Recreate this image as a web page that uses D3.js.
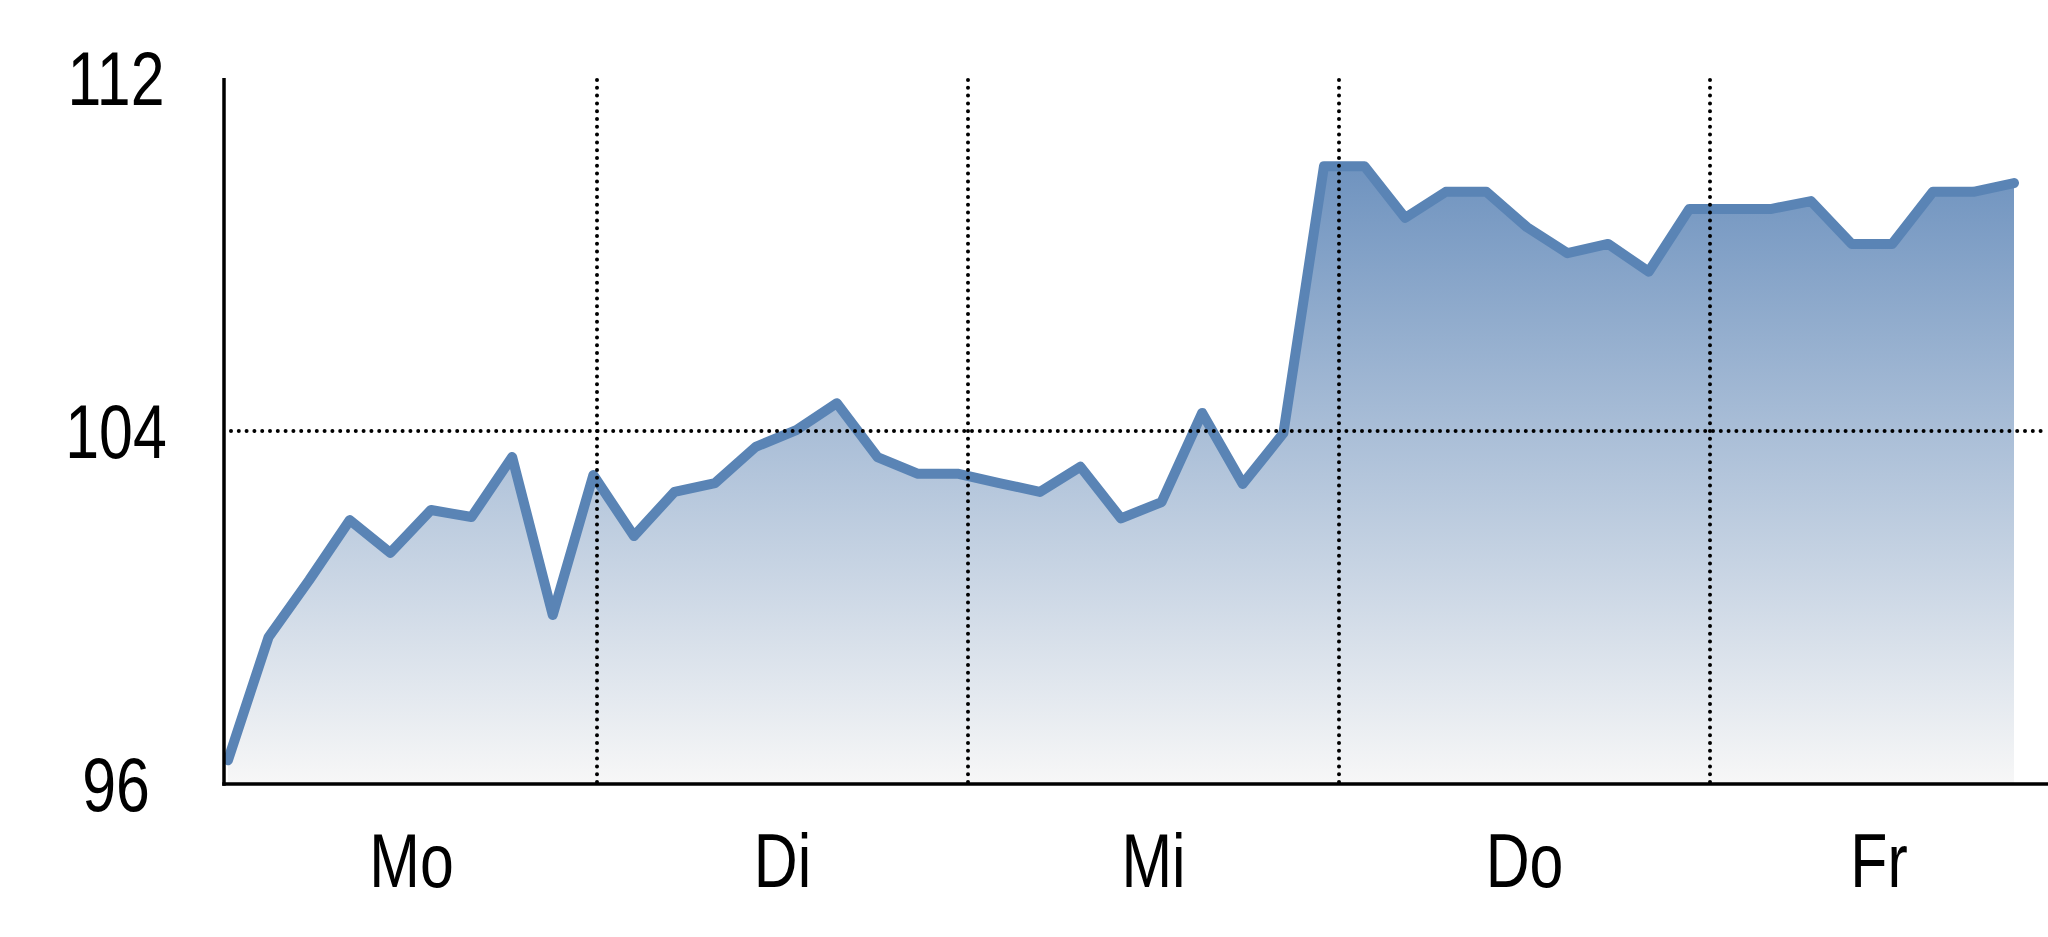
<!DOCTYPE html>
<html>
<head>
<meta charset="utf-8">
<script src="https://cdn.jsdelivr.net/npm/d3@7"></script>
<style>
  body { margin: 0; background: #fff; }
  svg { display: block; }
  .tickLabel { font-family: "Liberation Sans", Arial, sans-serif; font-size: 76px; fill: #000; }
  .grid { stroke: #000; stroke-width: 4; stroke-linecap: round; stroke-dasharray: 0 7.8; fill: none; }
  .axisLine { stroke: #000; stroke-width: 3.5; }
</style>
</head>
<body>
<div id="chart"></div>
<script>
// data
const days = ["Mo", "Di", "Mi", "Do", "Fr"];
const yTicks = [96, 104, 112];
const gridValues = [104];
const prices = [
  96.54, 99.33, 100.62, 101.98, 101.24, 102.21, 102.05, 103.41, 99.83,
  103.00, 101.62, 102.62, 102.82, 103.64, 104.02, 104.63, 103.41, 103.03,
  103.03, 102.82, 102.62, 103.19, 102.02, 102.39, 104.41, 102.80, 103.95,
  110.00, 110.00, 108.83, 109.42, 109.42, 108.62, 108.03, 108.24, 107.61,
  109.03, 109.03, 109.03, 109.21, 108.24, 108.24, 109.42, 109.42, 109.62
];

// setup
const width = 2048;
const height = 937;
const margin = {top: 78, right: 0, bottom: 153, left: 225};
const NARROW = 0.8; // no condensed face installed, squeeze the regular one

const svg = d3.select("#chart").append("svg")
    .attr("width", width)
    .attr("height", height);

// scales
const y = d3.scaleLinear()
    .domain([96, 112])
    .range([height - margin.bottom, margin.top]);

// one band per trading day
const dayScale = d3.scaleLinear()
    .domain([0, days.length])
    .range([margin.left + 1, margin.left + 1 + 5 * 371]);

// readings sit at even steps inside the week
const x = d3.scaleLinear()
    .domain([0, prices.length - 1])
    .range([228, 2014]);

// gradient for the area
const defs = svg.append("defs");
const grad = defs.append("linearGradient")
    .attr("id", "areaFill")
    .attr("x1", 0).attr("y1", 0)
    .attr("x2", 0).attr("y2", 1);
grad.append("stop").attr("offset", "0%").attr("stop-color", "#6f93bf");
grad.append("stop").attr("offset", "100%").attr("stop-color", "#f7f7f7");

const area = d3.area()
    .x((d, i) => x(i))
    .y0(y(96))
    .y1(d => y(d));

const line = d3.line()
    .x((d, i) => x(i))
    .y(d => y(d));

svg.append("path")
    .datum(prices)
    .attr("d", area)
    .attr("fill", "url(#areaFill)");

svg.append("path")
    .datum(prices)
    .attr("d", line)
    .attr("fill", "none")
    .attr("stroke", "#5a84b5")
    .attr("stroke-width", 10)
    .attr("stroke-linejoin", "round")
    .attr("stroke-linecap", "round");

// dotted grid, drawn over the area
svg.selectAll("line.vgrid")
  .data(d3.range(1, days.length))
    .enter()
  .append("line")
    .attr("class", "grid vgrid")
    .attr("x1", d => dayScale(d))
    .attr("x2", d => dayScale(d))
    .attr("y1", margin.top + 2)
    .attr("y2", y(96));

svg.selectAll("line.hgrid")
  .data(gridValues)
    .enter()
  .append("line")
    .attr("class", "grid hgrid")
    .attr("x1", margin.left + 6)
    .attr("x2", width)
    .attr("y1", d => y(d))
    .attr("y2", d => y(d));

// axes lines
svg.append("line")
    .attr("class", "axisLine")
    .attr("x1", margin.left - 1).attr("x2", margin.left - 1)
    .attr("y1", margin.top).attr("y2", y(96) + 1.75);

svg.append("line")
    .attr("class", "axisLine")
    .attr("x1", margin.left - 2.75).attr("x2", width)
    .attr("y1", y(96)).attr("y2", y(96));

// y labels
svg.selectAll("text.yLabel")
  .data(yTicks)
    .enter()
  .append("text")
    .attr("class", "tickLabel yLabel")
    .attr("transform", d => `translate(116, ${y(d)}) scale(${NARROW}, 1)`)
    .attr("dy", "0.36em")
    .attr("text-anchor", "middle")
    .text(d => d);

// day labels, centred in the visible part of each band
svg.selectAll("text.xLabel")
  .data(days)
    .enter()
  .append("text")
    .attr("class", "tickLabel xLabel")
    .attr("transform", (d, i) => {
      const cx = (dayScale(i) + Math.min(dayScale(i + 1), width)) / 2;
      return `translate(${cx}, 887) scale(${NARROW}, 1)`;
    })
    .attr("text-anchor", "middle")
    .text(d => d);
</script>
</body>
</html>
